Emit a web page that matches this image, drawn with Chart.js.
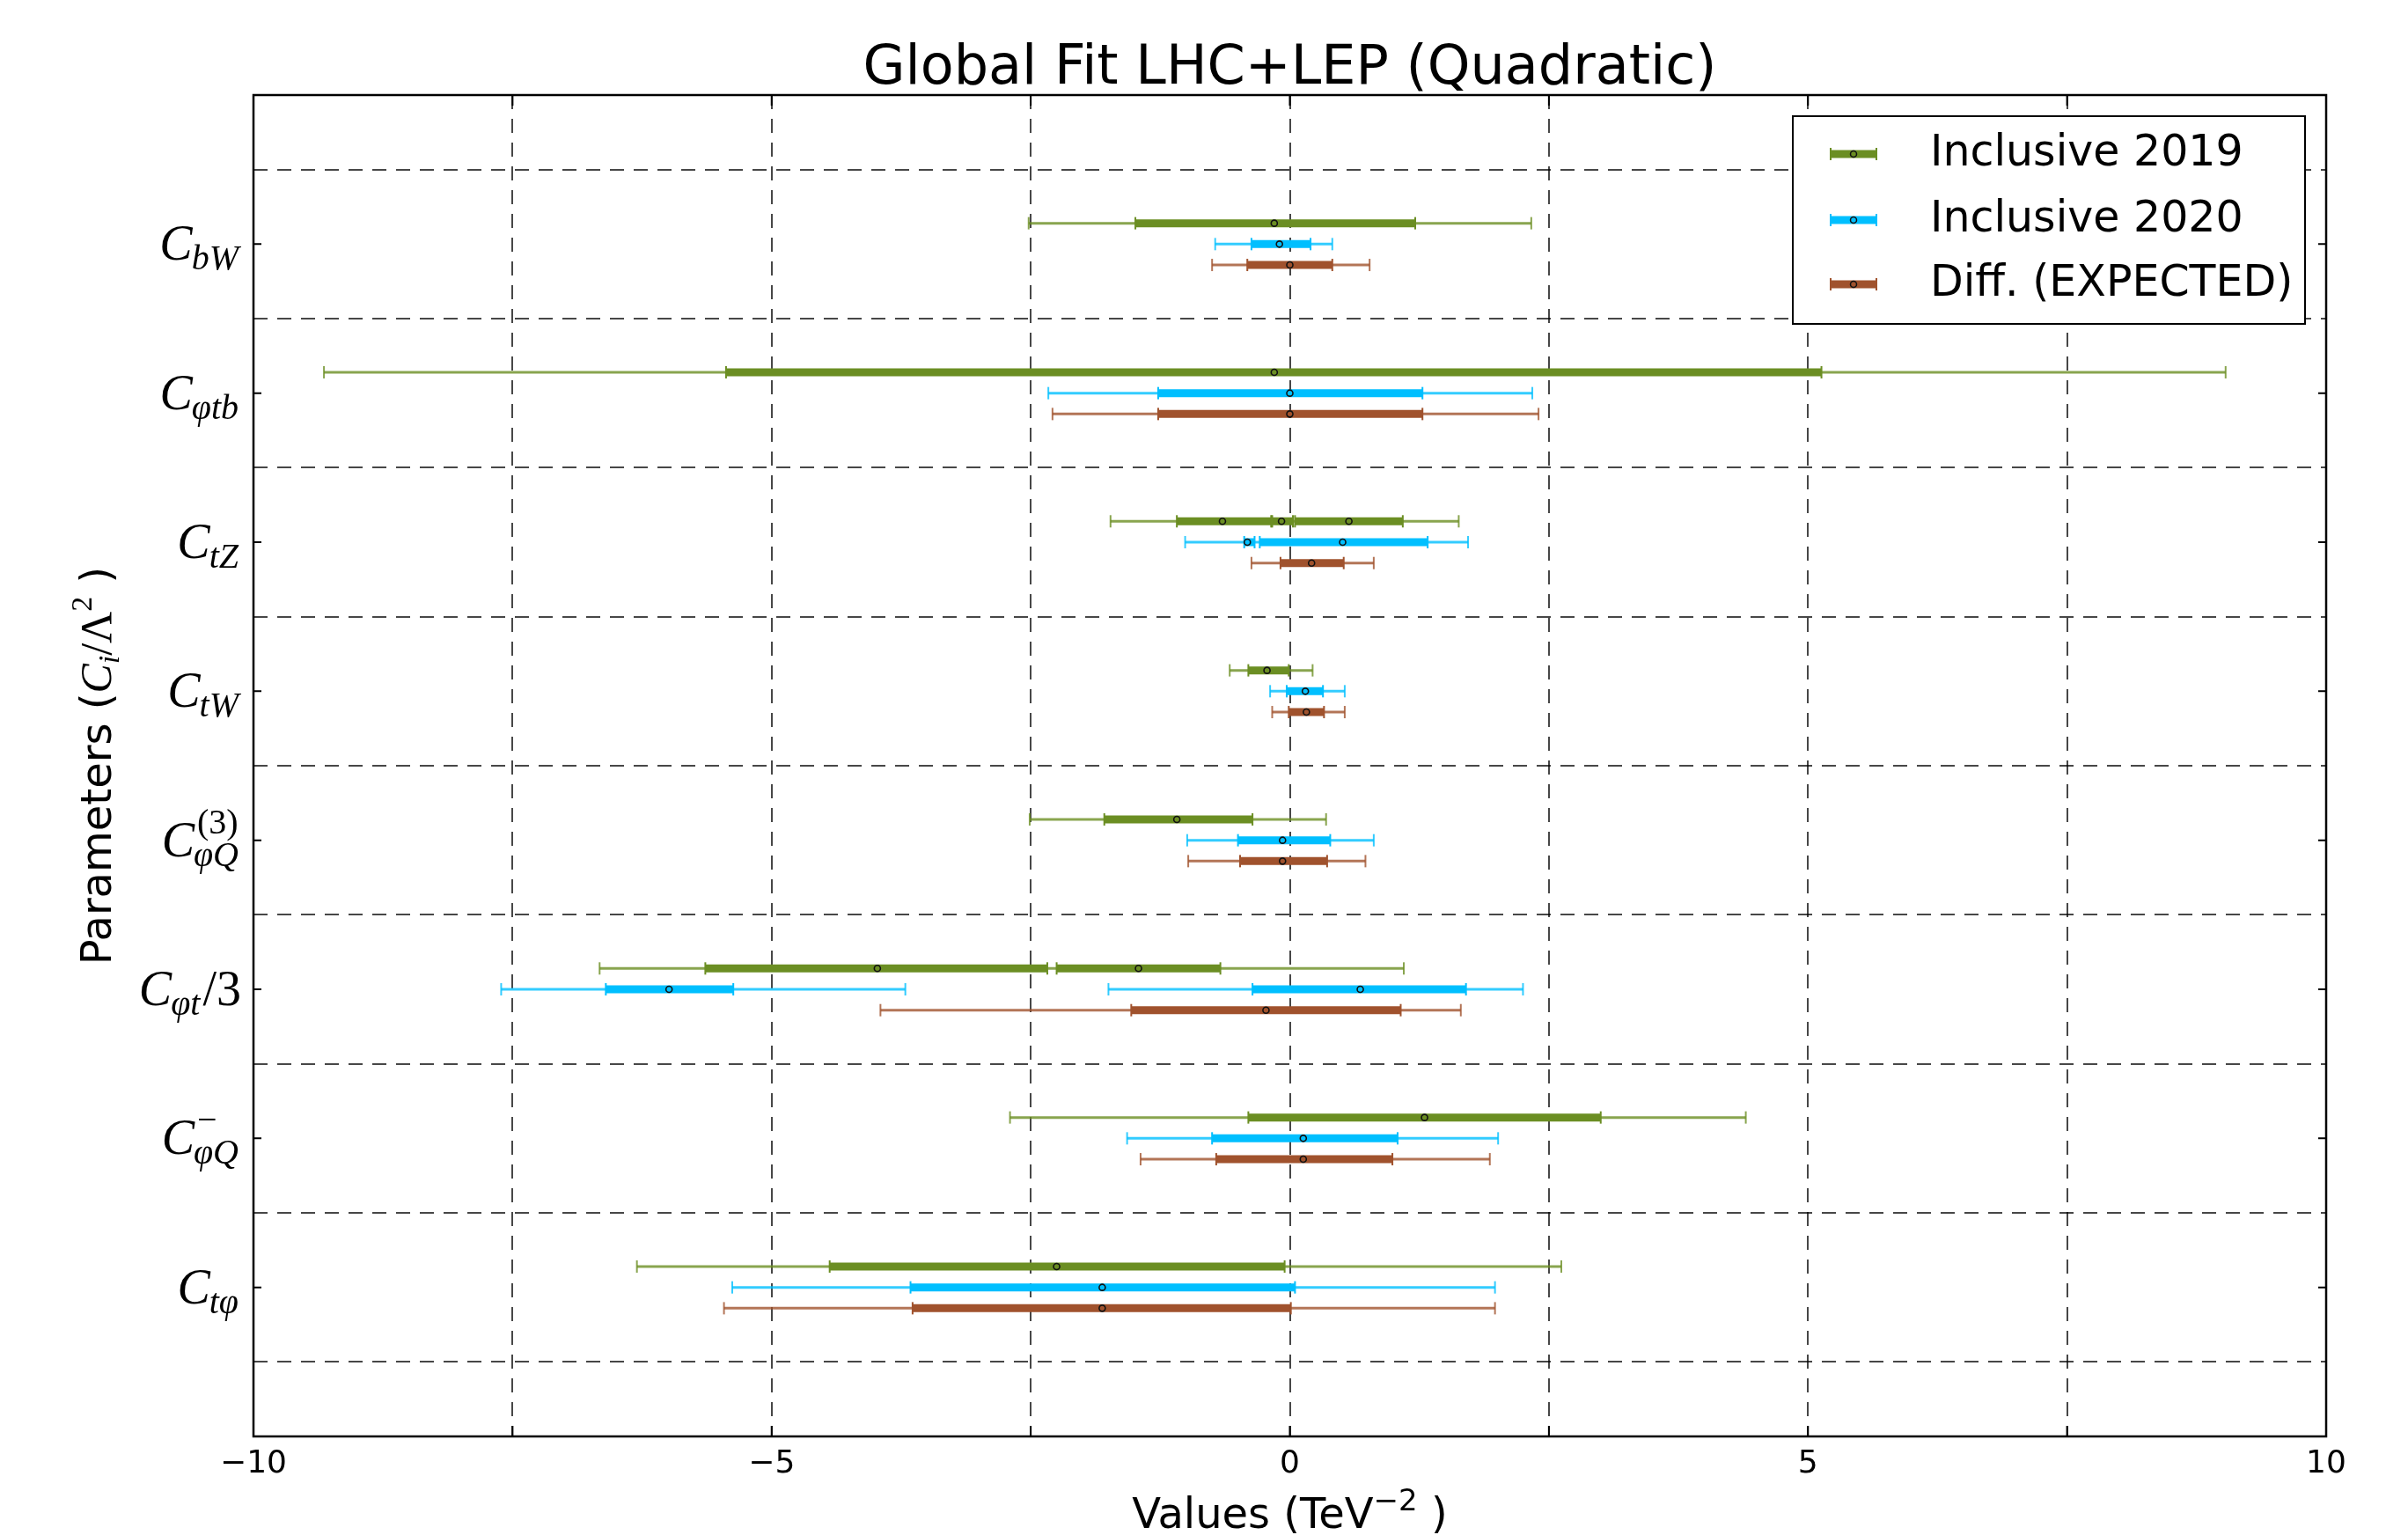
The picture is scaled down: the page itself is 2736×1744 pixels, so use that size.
<!DOCTYPE html>
<html lang="en">
<head>
<meta charset="UTF-8">
<title>Global Fit LHC+LEP (Quadratic)</title>
<script src="https://cdn.jsdelivr.net/npm/chart.js"></script>
<style>
  html, body { margin: 0; padding: 0; background: #fff; }
  canvas { display: block; }
</style>
</head>
<body>
<canvas id="myChart" width="2736" height="1744"></canvas>
<script>
// parameters, top to bottom: C + subscript (+ superscript) (+ tail)
const labelSub  = ['bW', '\u03c6tb', 'tZ', 'tW', '\u03c6Q', '\u03c6t', '\u03c6Q', 't\u03c6'];
const labelSup  = ['', '', '', '', '(3)', '', '\u2212', ''];
const labelTail = ['', '', '', '', '', '/3', '', ''];

const chartTitle = 'Global Fit LHC+LEP (Quadratic)';
const xTicks = [-10, -5, 0, 5, 10];

// best fit points and 68% / 95% intervals (TeV^-2), one entry per parameter
const inc2019Best = [[-0.15], [-0.15], [-0.65, -0.08, 0.57], [-0.22], [-1.09], [-3.98, -1.46], [1.30], [-2.25]];
const inc2019Sigma1 = [[[-1.49, 1.21]], [[-5.44, 5.13]], [[-1.09, -0.18], [-0.17, 0.03], [0.05, 1.09]], [[-0.40, -0.01]],
  [[-1.79, -0.36]], [[-5.64, -2.34], [-2.25, -0.67]], [[-0.40, 3.00]], [[-4.44, -0.05]]];
const inc2019Sigma2 = [[[-2.52, 2.33]], [[-9.32, 9.03]], [[-1.73, 1.63]], [[-0.58, 0.22]],
  [[-2.51, 0.35]], [[-6.66, 1.10]], [[-2.70, 4.40]], [[-6.30, 2.62]]];

const inc2020Best = [[-0.10], [0.00], [-0.41, 0.51], [0.15], [-0.07], [-5.99, 0.68], [0.13], [-1.81]];
const inc2020Sigma1 = [[[-0.37, 0.20]], [[-1.27, 1.28]], [[-0.44, -0.34], [-0.29, 1.33]], [[-0.03, 0.32]],
  [[-0.50, 0.39]], [[-6.60, -5.37], [-0.36, 1.70]], [[-0.75, 1.04]], [[-3.66, 0.05]]];
const inc2020Sigma2 = [[[-0.72, 0.41]], [[-2.33, 2.34]], [[-1.01, 1.72]], [[-0.19, 0.53]],
  [[-0.99, 0.81]], [[-7.61, -3.71], [-1.75, 2.25]], [[-1.57, 2.01]], [[-5.38, 1.98]]];

const diffBest = [[0.00], [0.00], [0.21], [0.16], [-0.07], [-0.23], [0.13], [-1.81]];
const diffSigma1 = [[[-0.41, 0.41]], [[-1.27, 1.28]], [[-0.09, 0.52]], [[-0.01, 0.33]],
  [[-0.48, 0.36]], [[-1.53, 1.07]], [[-0.71, 0.99]], [[-3.64, 0.01]]];
const diffSigma2 = [[[-0.75, 0.77]], [[-2.29, 2.40]], [[-0.37, 0.81]], [[-0.17, 0.53]],
  [[-0.98, 0.73]], [[-3.95, 1.65]], [[-1.44, 1.93]], [[-5.46, 1.98]]];

const series = [
  { name: 'Inclusive 2019', color: '#6b8e23', light: 'rgba(107,142,35,0.8)', best: inc2019Best, s1: inc2019Sigma1, s2: inc2019Sigma2, off: -0.14 },
  { name: 'Inclusive 2020', color: '#00bfff', light: 'rgba(0,191,255,0.8)', best: inc2020Best, s1: inc2020Sigma1, s2: inc2020Sigma2, off: 0 },
  { name: 'Diff. (EXPECTED)', color: '#a0522d', light: 'rgba(160,82,45,0.8)', best: diffBest, s1: diffSigma1, s2: diffSigma2, off: 0.14 }
];

function segments(intervals, off) {
  const pts = [];
  intervals.forEach(function (list, i) {
    list.forEach(function (iv) {
      pts.push({ x: iv[0], y: i + 1 + off }, { x: iv[1], y: i + 1 + off }, { x: null, y: null });
    });
  });
  return pts;
}

function centres(best, off) {
  const pts = [];
  best.forEach(function (list, i) {
    list.forEach(function (v) { pts.push({ x: v, y: i + 1 + off }); });
  });
  return pts;
}

const datasets = [];
series.forEach(function (s) {
  datasets.push({
    label: s.name + ' 95%', data: segments(s.s2, s.off), showLine: true, spanGaps: false,
    borderColor: s.light, borderWidth: 3, borderCapStyle: 'butt',
    pointStyle: 'line', pointRotation: 90, pointRadius: 7, pointHoverRadius: 7,
    pointBorderColor: s.light, pointBorderWidth: 2, order: 3
  });
  datasets.push({
    label: s.name + ' 68%', data: segments(s.s1, s.off), showLine: true, spanGaps: false,
    borderColor: s.color, borderWidth: 9, borderCapStyle: 'butt',
    pointStyle: 'line', pointRotation: 90, pointRadius: 7, pointHoverRadius: 7,
    pointBorderColor: s.color, pointBorderWidth: 2, order: 2
  });
  datasets.push({
    label: s.name, data: centres(s.best, s.off), showLine: false,
    pointStyle: 'circle', pointRadius: 3.5, pointHoverRadius: 3.5,
    pointBackgroundColor: 'rgba(0,0,0,0)', pointBorderColor: '#111', pointBorderWidth: 1.6, order: 1
  });
});

// draws a list of text pieces [text, font, dy] one after another
function richWidth(ctx, parts) {
  let w = 0;
  parts.forEach(function (p) { ctx.font = p[1]; w += ctx.measureText(p[0]).width; });
  return w;
}
function drawRich(ctx, parts, x, y) {
  parts.forEach(function (p) {
    ctx.font = p[1];
    ctx.fillText(p[0], x, y + (p[2] || 0));
    x += ctx.measureText(p[0]).width;
  });
}

const serifI = 'italic 56px "Liberation Serif"';
const serifIs = 'italic 40px "Liberation Serif"';
const serifR = '56px "Liberation Serif"';
const serifRs = '40px "Liberation Serif"';

function drawParam(ctx, i, xr, yc) {
  ctx.font = serifI; const wC = ctx.measureText('C').width;
  ctx.font = serifIs; const wSub = ctx.measureText(labelSub[i]).width;
  ctx.font = serifRs; const wSup = labelSup[i] ? ctx.measureText(labelSup[i]).width : 0;
  ctx.font = serifR; const wTail = labelTail[i] ? ctx.measureText(labelTail[i]).width : 0;
  const wScr = Math.max(wSub, wSup + 3);
  const x0 = xr - (wC + 2 + wScr + wTail);
  const base = yc + 18;
  ctx.font = serifI; ctx.fillText('C', x0, base);
  ctx.font = serifIs; ctx.fillText(labelSub[i], x0 + wC - 1, base + 11);
  if (labelSup[i]) { ctx.font = serifRs; ctx.fillText(labelSup[i], x0 + wC + 3, base - 26); }
  if (labelTail[i]) { ctx.font = serifR; ctx.fillText(labelTail[i], x0 + wC + 2 + wScr, base); }
}

const decor = {
  id: 'decor',
  afterDraw(chart) {
    const ctx = chart.ctx, a = chart.chartArea, x = chart.scales.x, y = chart.scales.y;
    ctx.save();
    ctx.fillStyle = '#000';
    ctx.strokeStyle = '#000';

    // small inward ticks
    ctx.lineWidth = 2;
    ctx.beginPath();
    for (let v = -10; v <= 10; v += 2.5) {
      const px = x.getPixelForValue(v);
      ctx.moveTo(px, a.bottom); ctx.lineTo(px, a.bottom - 12);
      ctx.moveTo(px, a.top); ctx.lineTo(px, a.top + 12);
    }
    for (let i = 0; i < labelSub.length; i++) {
      const py = y.getPixelForValue(i + 1);
      ctx.moveTo(a.left, py); ctx.lineTo(a.left + 9, py);
      ctx.moveTo(a.right, py); ctx.lineTo(a.right - 9, py);
    }
    ctx.stroke();

    // frame
    ctx.lineWidth = 2.5;
    ctx.strokeRect(a.left, a.top, a.right - a.left, a.bottom - a.top);

    // parameter labels
    ctx.textAlign = 'left';
    ctx.textBaseline = 'alphabetic';
    for (let i = 0; i < labelSub.length; i++) {
      drawParam(ctx, i, a.left - 14, y.getPixelForValue(i + 1));
    }

    // title
    ctx.font = '62px "DejaVu Sans"';
    ctx.textAlign = 'center';
    ctx.fillText(chartTitle, (a.left + a.right) / 2, 95);
    ctx.textAlign = 'left';

    // x axis title
    const xt = [['Values (TeV', '48px "DejaVu Sans"', 0], ['\u22122', '34px "DejaVu Sans"', -20], [' )', '48px "DejaVu Sans"', 0]];
    drawRich(ctx, xt, (a.left + a.right) / 2 - richWidth(ctx, xt) / 2, 1736);

    // y axis title
    const yt = [['Parameters (', '48px "DejaVu Sans"', 0], ['C', 'italic 50px "Liberation Serif"', 0],
      ['i', 'italic 34px "Liberation Serif"', 9], ['/\u039b', '50px "Liberation Serif"', 0],
      ['2', '34px "Liberation Serif"', -22], [' )', '48px "DejaVu Sans"', 0]];
    ctx.save();
    ctx.translate(126, (a.top + a.bottom) / 2);
    ctx.rotate(-Math.PI / 2);
    drawRich(ctx, yt, -richWidth(ctx, yt) / 2, 0);
    ctx.restore();

    // legend
    const bw = 582, bh = 236;
    const bx = a.right - 24 - bw, by = a.top + 24;
    ctx.fillStyle = '#fff';
    ctx.fillRect(bx, by, bw, bh);
    ctx.lineWidth = 2;
    ctx.strokeRect(bx, by, bw, bh);
    const rows = [43, 118, 191];
    series.forEach(function (s, k) {
      const ry = by + rows[k];
      const x1 = bx + 43, x2 = bx + 95;
      ctx.strokeStyle = s.color;
      ctx.lineWidth = 9;
      ctx.beginPath(); ctx.moveTo(x1, ry); ctx.lineTo(x2, ry); ctx.stroke();
      ctx.lineWidth = 2;
      ctx.beginPath();
      ctx.moveTo(x1, ry - 7); ctx.lineTo(x1, ry + 7);
      ctx.moveTo(x2, ry - 7); ctx.lineTo(x2, ry + 7);
      ctx.stroke();
      ctx.strokeStyle = '#111';
      ctx.lineWidth = 1.5;
      ctx.beginPath(); ctx.arc((x1 + x2) / 2, ry, 3.5, 0, Math.PI * 2); ctx.stroke();
      ctx.fillStyle = '#000';
      ctx.font = '49px "DejaVu Sans"';
      ctx.textBaseline = 'middle';
      ctx.fillText(s.name, bx + 156, ry);
      ctx.textBaseline = 'alphabetic';
    });
    ctx.restore();
  }
};

const dashGrid = { color: 'rgba(0,0,0,0.72)', lineWidth: 2, drawTicks: false };

new Chart(document.getElementById('myChart'), {
  type: 'scatter',
  data: { datasets: datasets },
  options: {
    responsive: false,
    devicePixelRatio: 1,
    animation: false,
    events: [],
    layout: { padding: { top: 108, right: 93, left: 0, bottom: 0 } },
    plugins: { legend: { display: false }, title: { display: false }, tooltip: { enabled: false } },
    scales: {
      x: {
        type: 'linear', min: -10, max: 10,
        grid: dashGrid,
        border: { display: false, dash: [16, 11] },
        ticks: {
          stepSize: 2.5, padding: 10, color: '#000',
          font: { family: 'DejaVu Sans', size: 36 },
          callback: function (v) {
            if (xTicks.indexOf(v) < 0) return '';
            return v < 0 ? '\u2212' + Math.abs(v) : String(v);
          }
        },
        afterFit: function (scale) { scale.height = 112; }
      },
      y: {
        type: 'linear', min: 0, max: 9, reverse: true,
        grid: dashGrid,
        border: { display: false, dash: [16, 11] },
        ticks: { display: false },
        afterBuildTicks: function (scale) {
          scale.ticks = labelSub.concat(['']).map(function (_, i) { return { value: i + 0.5 }; });
        },
        afterFit: function (scale) { scale.width = 288; }
      }
    }
  },
  plugins: [decor]
});
</script>
</body>
</html>
